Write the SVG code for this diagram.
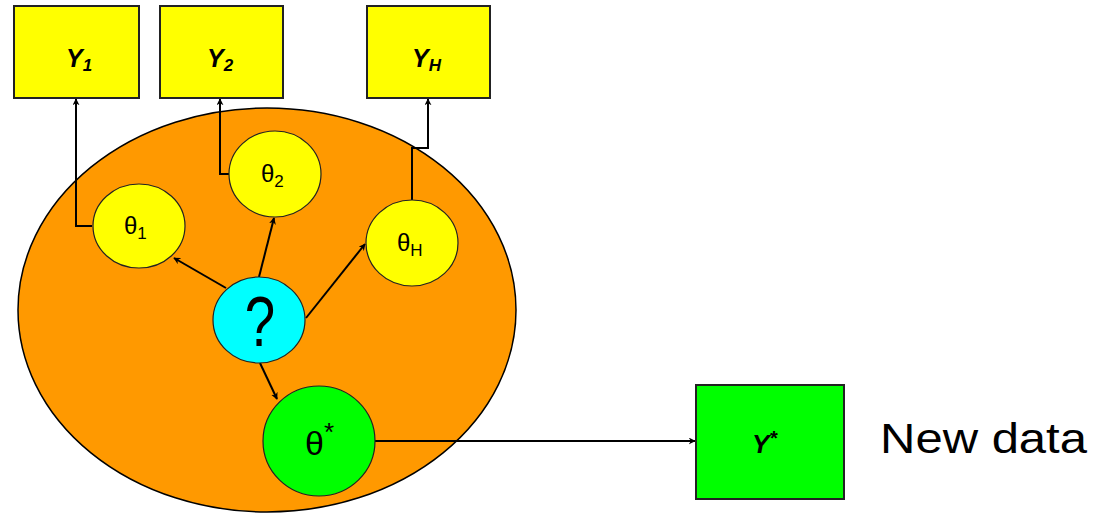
<svg xmlns="http://www.w3.org/2000/svg" width="1094" height="516" viewBox="0 0 1094 516">
<defs>
<marker id="ah" viewBox="0 0 10 10" refX="9" refY="5" markerWidth="7" markerHeight="7" orient="auto" markerUnits="userSpaceOnUse">
<path d="M0,0 L10,5 L0,10 L3,5 Z" fill="#000"/>
</marker>
<style>
.box{stroke:#222;stroke-width:2}
.node{stroke:#222;stroke-width:1.2}
.conn{fill:none;stroke:#000;stroke-width:2;marker-end:url(#ah)}
.ylab{font-family:"Liberation Sans",Arial,sans-serif;font-weight:bold;font-style:italic;fill:#000}
.tlab{font-family:"Liberation Sans",Arial,sans-serif;fill:#000}
</style>
</defs>
<rect width="1094" height="516" fill="#fff"/>
<g id="population">
<ellipse cx="267" cy="310" rx="249" ry="202" fill="#FF9900" stroke="#000" stroke-width="1.5"/>
</g>
<g id="connectors">
<polyline class="conn" points="92,226 76,226 76,99"/>
<polyline class="conn" points="229,174 220,174 220,99"/>
<polyline class="conn" points="412,200 412,148 428,148 428,99"/>
<line class="conn" x1="226" y1="288" x2="174" y2="258"/>
<line class="conn" x1="259" y1="277" x2="274" y2="218"/>
<line class="conn" x1="306" y1="318" x2="365" y2="244"/>
<line class="conn" x1="260" y1="363" x2="277" y2="399"/>
<line class="conn" x1="375" y1="441" x2="695" y2="441"/>
</g>
<g id="Y1">
<rect class="box" x="14" y="6" width="125" height="92" fill="#FFFF00"/>
<text class="ylab" x="66" y="67" font-size="25">Y<tspan font-size="17" dy="4">1</tspan></text>
</g>
<g id="Y2">
<rect class="box" x="160" y="6" width="123" height="92" fill="#FFFF00"/>
<text class="ylab" x="207" y="67" font-size="25">Y<tspan font-size="17" dy="4">2</tspan></text>
</g>
<g id="YH">
<rect class="box" x="367" y="6" width="123" height="92" fill="#FFFF00"/>
<text class="ylab" x="412" y="67" font-size="25">Y<tspan font-size="17" dy="4">H</tspan></text>
</g>
<g id="theta1">
<ellipse class="node" cx="139" cy="226" rx="46" ry="42" fill="#FFFF00"/>
<text class="tlab" x="124" y="234" font-size="24">θ<tspan font-size="17" dy="5">1</tspan></text>
</g>
<g id="theta2">
<ellipse class="node" cx="275" cy="174" rx="46" ry="43" fill="#FFFF00"/>
<text class="tlab" x="261" y="182" font-size="24">θ<tspan font-size="17" dy="5">2</tspan></text>
</g>
<g id="thetaH">
<ellipse class="node" cx="412" cy="243" rx="46" ry="43" fill="#FFFF00"/>
<text class="tlab" x="397" y="251" font-size="24">θ<tspan font-size="17" dy="5">H</tspan></text>
</g>
<g id="hyper">
<ellipse class="node" cx="259" cy="320" rx="46" ry="43" fill="#00FFFF"/>
<text class="tlab" x="0" y="0" font-size="70" text-anchor="middle" transform="translate(260,346) scale(0.78,1)">?</text>
</g>
<g id="thetaStar">
<ellipse class="node" cx="319" cy="441" rx="56" ry="55" fill="#00FF00"/>
<text class="tlab" x="305" y="455" font-size="34">θ<tspan font-size="26" dy="-14">*</tspan></text>
</g>
<g id="Ystar">
<rect class="box" x="696" y="385" width="148" height="114" fill="#00FF00"/>
<text class="ylab" x="752" y="453" font-size="26">Y<tspan font-size="20" dy="-8">*</tspan></text>
</g>
<g id="newdata">
<text class="tlab" x="880" y="453" font-size="43" textLength="207" lengthAdjust="spacingAndGlyphs">New data</text>
</g>
</svg>
